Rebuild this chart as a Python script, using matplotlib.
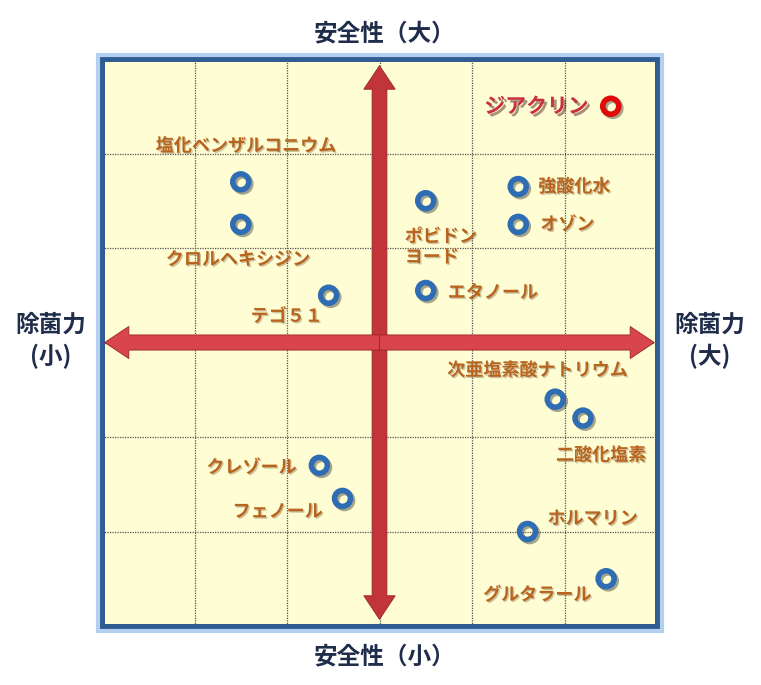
import matplotlib
matplotlib.use("Agg")
import matplotlib.pyplot as plt
import matplotlib.patches as mpatches
import matplotlib.patheffects as pe

plt.rcParams['font.family'] = ['Noto Sans CJK JP', 'DejaVu Sans']

# chart data: x = 除菌力, y = 安全性
names = ['塩化ベンザルコニウム', 'クロルヘキシジン', 'テゴ５１', 'ポビドン\nヨード',
         '強酸化水', 'オゾン', 'エタノール', '次亜塩素酸ナトリウム', '二酸化塩素',
         'ホルマリン', 'グルタラール', 'クレゾール', 'フェノール']
xs = [-1.5, -1.5, -0.55, 0.5, 1.5, 1.5, 0.5, 1.9, 2.2, 1.6, 2.45, -0.65, -0.4]
ys = [1.7, 1.25, 0.5, 1.5, 1.65, 1.25, 0.55, -0.6, -0.8, -2.0, -2.5, -1.3, -1.65]

main_name = 'ジアクリン'
main_x = 2.5
main_y = 2.5

ticks = [-3, -2, -1, 0, 1, 2, 3]

# label placement: (dx px, dy px, ha)
label_pos = [(5, 36, 'center'), (-3, -35, 'center'), (-6, -21, 'right'),
             (-21, -46, 'left'), (20, 0, 'left'), (22, 0, 'left'),
             (22, -2, 'left'), (-18, 29, 'center'), (18, -37, 'center'),
             (20, 13, 'left'), (-15, -16, 'right'), (-23, -2, 'right'),
             (-20, -13, 'right')]

fig = plt.figure(figsize=(7.61, 6.85), dpi=100)
ax = fig.add_axes([102 / 761, 59 / 685, 555 / 761, 567 / 685])
ax.set_xlim(ticks[0], ticks[-1])
ax.set_ylim(ticks[0], ticks[-1])
ax.set_facecolor('#FFFDD3')
ax.set_xticks(ticks)
ax.set_yticks(ticks)
ax.tick_params(length=0, labelbottom=False, labelleft=False)
ax.grid(True, color='#555555', linestyle=(0, (1, 1)), linewidth=0.9)
for s in ax.spines.values():
    s.set_color('#2F5D92')
    s.set_linewidth(3.6)

# light blue glow round the frame
glow = mpatches.Rectangle((97.5 / 761, 54.5 / 685), 564 / 761, 576 / 685,
                          transform=fig.transFigure, fill=False,
                          edgecolor='#B3D0F0', linewidth=3, zorder=0)
fig.patches.append(glow)

# red double arrows
arr_kw = dict(length_includes_head=True, width=0.16, head_width=0.34,
              edgecolor='#9A2428', linewidth=0.6)
for d in (-2.93, 2.93):
    ax.add_patch(mpatches.FancyArrow(0, 0, 0, d, head_length=0.25,
                                     facecolor='#C0343A', zorder=3, **arr_kw))
for d in (-2.97, 2.97):
    ax.add_patch(mpatches.FancyArrow(0, 0, d, 0, head_length=0.26,
                                     facecolor='#D8454D', zorder=4, **arr_kw))

shadow = [pe.SimpleLineShadow(offset=(1.5, -1.5), alpha=0.35), pe.Normal()]
ax.plot(xs, ys, linestyle='none', marker='o', markersize=11.5,
        markerfacecolor='none', markeredgecolor='#2E6DB4',
        markeredgewidth=4.0, zorder=5, path_effects=shadow)
ax.plot([main_x], [main_y], linestyle='none', marker='o', markersize=11.5,
        markerfacecolor='none', markeredgecolor='#E00A0A',
        markeredgewidth=4.0, zorder=5, path_effects=shadow)

txt_shadow = [pe.SimplePatchShadow(offset=(1, -1), alpha=0.25), pe.Normal()]
for n, x, y, (dx, dy, ha) in zip(names, xs, ys, label_pos):
    ax.annotate(n, (x, y), xytext=(dx, dy), textcoords='offset pixels',
                ha=ha, va='center', fontsize=13, fontweight='bold',
                color='#B9641E', linespacing=1.1, zorder=6,
                path_effects=txt_shadow)

ax.annotate(main_name, (main_x, main_y), xytext=(-22, 0),
            textcoords='offset pixels', ha='right', va='center',
            fontsize=15, fontweight='bold', color='#C8303E', zorder=6,
            path_effects=[pe.SimplePatchShadow(offset=(2, -2), alpha=0.45),
                          pe.Normal()])

# axis captions
lab_kw = dict(fontsize=17, fontweight='bold', color='#1F2D4A',
              ha='center', va='center')
fig.text(385 / 761, 1 - 33 / 685, '安全性（大）', **lab_kw)
fig.text(385 / 761, 1 - 656 / 685, '安全性（小）', **lab_kw)
fig.text(51 / 761, 1 - 325 / 685, '除菌力', **lab_kw)
fig.text(51 / 761, 1 - 356 / 685, '(小)', **lab_kw)
fig.text(710 / 761, 1 - 325 / 685, '除菌力', **lab_kw)
fig.text(710 / 761, 1 - 356 / 685, '(大)', **lab_kw)

fig.savefig('out.png', dpi=100)
